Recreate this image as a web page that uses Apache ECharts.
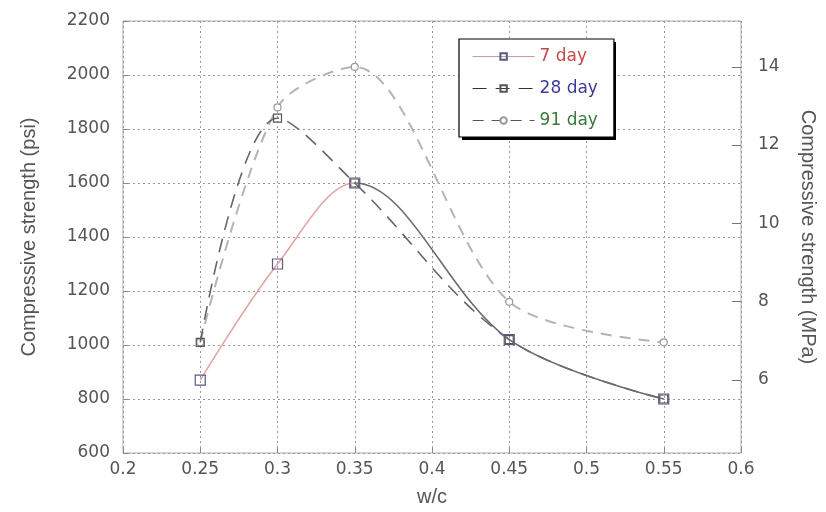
<!DOCTYPE html>
<html>
<head>
<meta charset="utf-8">
<script src="https://cdn.jsdelivr.net/npm/echarts@6/dist/echarts.min.js"></script>
<style>
  html, body { margin: 0; padding: 0; background: #fff; }
  #chart { width: 826px; height: 512px; }
</style>
</head>
<body>
<div id="chart"></div>
<script>
// w/c ratio and compressive strength (psi)
const wc = [0.25, 0.3, 0.35, 0.45, 0.55];
const day7 = [870, 1300, 1600, 1020, 800];
const day28 = [1010, 1840, 1600, 1020, 800];
const day91 = [1010, 1880, 2030, 1160, 1010];
const mpaTicks = [6, 8, 10, 12, 14];

const PSI_PER_MPA = 145.038;
const psiMin = 600, psiMax = 2200;

const pairs = (ys) => wc.map((x, i) => [x, ys[i]]);

const labelFont = { color: '#555', fontFamily: 'DejaVu Sans', fontSize: 17 };
const nameFont = { color: '#555', fontFamily: 'Liberation Sans', fontSize: 20 };
const dotted = { color: '#999', type: [2, 3], width: 1 };

// 7 day line is pink up to 0.35 then grey
const split = (0.35 - 0.25) / (0.55 - 0.25);
const day7Line = {
  type: 'linear', x: 0, y: 0, x2: 1, y2: 0,
  colorStops: [
    { offset: 0, color: '#e4a4a4' },
    { offset: split, color: '#e4a4a4' },
    { offset: split, color: '#6a6a78' },
    { offset: 1, color: '#6a6a78' }
  ]
};

const chart = echarts.init(document.getElementById('chart'));
chart.setOption({
  animation: false,
  grid: {
    left: 123, right: 81, top: 21, bottom: 59,
    show: true, borderColor: '#aaa', borderWidth: 1
  },
  // drop shadow behind the legend box
  graphic: [{
    type: 'rect', z: 1, silent: true,
    shape: { x: 462, y: 42, width: 154, height: 98 },
    style: { fill: '#000' }
  }],
  legend: {
    orient: 'vertical',
    left: 459, top: 39, z: 10,
    padding: [9, 16, 8, 13],
    itemWidth: 62, itemHeight: 8, itemGap: 15,
    backgroundColor: '#fff',
    borderColor: '#000', borderWidth: 1.2,
    textStyle: { fontFamily: 'DejaVu Sans', fontSize: 17 },
    data: [
      { name: '7 day', textStyle: { color: '#c84848' },
        lineStyle: { color: '#c8a0a0', width: 1.2 } },
      { name: '28 day', textStyle: { color: '#3c3c98' },
        lineStyle: { color: '#333', width: 1.2 } },
      { name: '91 day', textStyle: { color: '#3a7a3a' },
        lineStyle: { color: '#555', width: 1.2 } }
    ]
  },
  xAxis: {
    type: 'value',
    min: 0.2, max: 0.6, interval: 0.05,
    name: 'w/c', nameLocation: 'middle', nameGap: 34,
    nameTextStyle: nameFont,
    axisLine: { show: false },
    axisTick: { inside: true, length: 5, lineStyle: { color: '#888' } },
    axisLabel: Object.assign({ margin: 8 }, labelFont),
    splitLine: { show: true, lineStyle: dotted }
  },
  yAxis: [
    {
      type: 'value',
      min: psiMin, max: psiMax, interval: 200,
      name: 'Compressive strength (psi)', nameLocation: 'middle', nameGap: 84,
      nameTextStyle: nameFont,
      axisLine: { show: false },
      axisTick: { show: true, inside: true, length: 5, lineStyle: { color: '#888' } },
      axisLabel: Object.assign({ margin: 13, formatter: (v) => String(v) }, labelFont),
      splitLine: { show: true, lineStyle: dotted }
    },
    {
      type: 'value', position: 'right',
      min: psiMin / PSI_PER_MPA, max: psiMax / PSI_PER_MPA,
      name: 'Compressive strength (MPa)', nameLocation: 'middle', nameGap: 57,
      nameRotate: -90,
      nameTextStyle: nameFont,
      axisLine: { show: false },
      axisTick: { show: true, inside: true, length: 9, customValues: mpaTicks,
        lineStyle: { color: '#777' } },
      axisLabel: Object.assign({ margin: 17, customValues: mpaTicks }, labelFont),
      splitLine: { show: false }
    }
  ],
  series: [
    {
      name: '91 day', type: 'line', z: 2,
      data: pairs(day91),
      smooth: 0.3,
      symbol: 'circle', symbolSize: 7,
      itemStyle: { color: '#fff', borderColor: '#999', borderWidth: 1.2 },
      lineStyle: { color: '#b4b4b4', width: 2, type: [11, 8] }
    },
    {
      name: '28 day', type: 'line', z: 3,
      data: pairs(day28),
      smooth: 0.35,
      symbol: 'rect', symbolSize: 8,
      itemStyle: { color: 'rgba(255,255,255,0)', borderColor: '#555', borderWidth: 1.2 },
      lineStyle: { color: '#666', width: 1.6, type: [14, 9] }
    },
    {
      name: '7 day', type: 'line', z: 4,
      data: pairs(day7),
      smooth: 0.35,
      symbol: 'rect', symbolSize: 10,
      itemStyle: { color: 'rgba(255,255,255,0)', borderColor: '#5a5a80', borderWidth: 1.2 },
      lineStyle: { color: day7Line, width: 1.6 }
    }
  ]
});
</script>
</body>
</html>
